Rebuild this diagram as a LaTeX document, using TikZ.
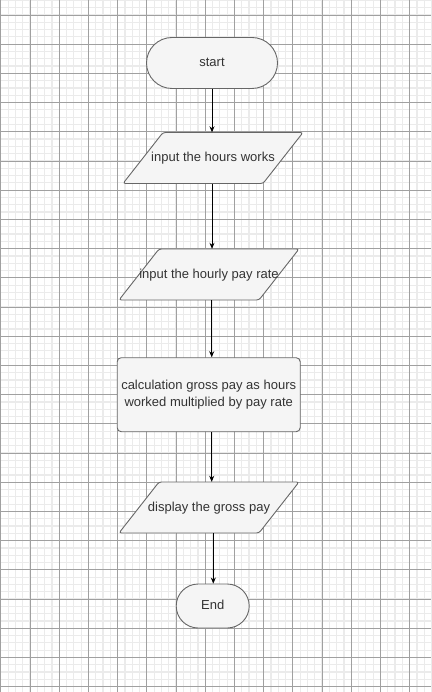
\documentclass[tikz,border=0pt]{standalone}
\usepackage{fontspec}
\setmainfont{Liberation Sans}
\usetikzlibrary{arrows.meta,shapes.misc}

\definecolor{minorgrid}{HTML}{EBEBEB}
\definecolor{majorgrid}{HTML}{A0A0A0}
\definecolor{boxfill}{HTML}{F5F5F5}
\definecolor{boxline}{HTML}{666666}
\definecolor{boxtext}{HTML}{333333}

\tikzset{
  box/.style={draw=boxline, fill=boxfill, text=boxtext, line width=0.9pt,
    font=\fontsize{13}{16.5}\selectfont, inner sep=0pt, align=center},
  terminal/.style={box, rounded rectangle, text height=10.4pt, text depth=3pt},
  process/.style={box, rectangle, rounded corners=4pt},
  ioframe/.style={draw=boxline, fill=boxfill, line width=0.9pt, rounded corners=2.5pt},
  iotext/.style={text=boxtext, font=\fontsize{13}{16.5}\selectfont, inner sep=0pt,
    text height=10.4pt, text depth=3pt, minimum width=100pt, minimum height=51pt},
  flow/.style={-{Stealth[length=6pt,width=5pt]}, line width=0.8pt, black}
}

% parallelogram: name, x, y, text
\newcommand{\ioshape}[4]{%
  \draw[ioframe] ({#2-50},{#3-25.5}) -- ({#2+90},{#3-25.5})
    -- ({#2+50},{#3+25.5}) -- ({#2-90},{#3+25.5}) -- cycle;
  \node[iotext] (#1) at (#2,#3) {#4};}

\begin{document}
\begin{tikzpicture}[x=1pt, y=-1pt]
    \useasboundingbox (0,0) rectangle (431,692);
    \fill[white] (0,0) rectangle (431,692);
    % grid paper
    \foreach \i in {0,...,59}
      \draw[minorgrid, line width=1.2pt] ({0.8+7.3*\i},0) -- ({0.8+7.3*\i},692);
    \foreach \j in {0,...,94}
      \draw[minorgrid, line width=1.2pt] (0,{0.4+7.3*\j}) -- (431,{0.4+7.3*\j});
    \foreach \i in {0,...,14}
      \draw[majorgrid, line width=0.7pt] ({0.8+29.2*\i},0) -- ({0.8+29.2*\i},692);
    \foreach \j in {0,...,23}
      \draw[majorgrid, line width=0.7pt] (0,{15+29.2*\j}) -- (431,{15+29.2*\j});
    % flowchart
    \node[terminal, minimum width=131pt, minimum height=51pt] (start) at (212,63) {start};
    \ioshape{hours}{213}{158}{input the hours works}
    \ioshape{rate}{209}{274.5}{input the hourly pay rate}
    \node[process, minimum width=183pt, minimum height=74pt] (calc) at (208.7,394.7)
      {calculation gross pay as hours\\worked multiplied by pay rate};
    \ioshape{show}{209}{507.5}{display the gross pay}
    \node[terminal, minimum width=73pt, minimum height=44pt] (stop) at (212.7,606) {End};
    % arrows
    \draw[flow] (start.south) -- (start.south |- hours.north);
    \draw[flow] ([xshift=-1pt]hours.south) -- ([xshift=-1pt]hours.south |- rate.north);
    \draw[flow] ([xshift=2.7pt]rate.south) -- ([xshift=2.7pt]rate.south |- calc.north);
    \draw[flow] ([xshift=3pt]calc.south) -- ([xshift=3pt]calc.south |- show.north);
    \draw[flow] ([xshift=4.3pt]show.south) -- ([xshift=4.3pt]show.south |- stop.north);
\end{tikzpicture}
\end{document}
